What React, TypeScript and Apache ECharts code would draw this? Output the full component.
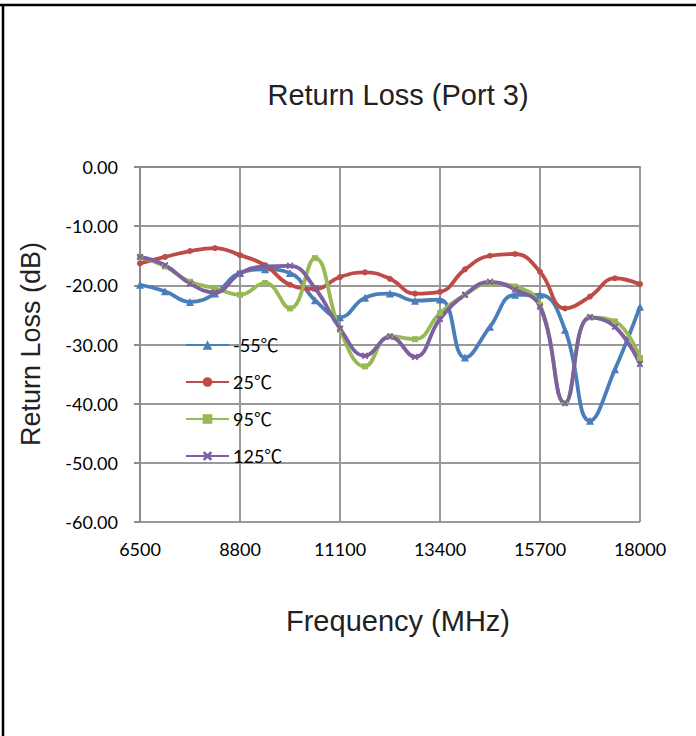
import React, { useEffect, useRef } from "react";
import * as echarts from "echarts";

const frequencies = [
  "6500", "7075", "7650", "8225", "8800", "9375", "9950", "10525", "11100", "11675", "12250",
  "12825", "13400", "13975", "14550", "15125", "15700", "16275", "16850", "17425", "18000",
];

const minus55 = [-19.9, -21.0, -22.8, -21.4, -17.9, -17.3, -17.9, -22.5, -25.4, -22.1, -21.4,
  -22.6, -22.4, -32.2, -27.0, -21.6, -21.6, -27.5, -42.9, -34.2, -23.6];
const plus25 = [-16.3, -15.2, -14.2, -13.7, -14.9, -16.6, -19.9, -20.6, -18.6, -17.8, -18.9,
  -21.4, -21.1, -17.3, -15.0, -14.7, -17.7, -23.9, -21.9, -18.8, -19.8];
const plus95 = [-15.2, -16.8, -19.4, -20.5, -21.6, -19.6, -23.9, -15.4, -27.5, -33.7, -28.6,
  -29.1, -24.7, -21.6, -19.7, -20.2, -23.3, -39.9, -25.4, -26.1, -32.3];
const plus125 = [-15.2, -16.6, -19.7, -21.2, -18.0, -16.8, -16.7, -20.5, -27.3, -31.9, -28.7,
  -32.1, -25.7, -21.6, -19.4, -20.7, -23.6, -39.9, -25.4, -27.0, -33.3];

const seriesNames = ["-55℃", "25℃", "95℃", "125℃"];
const yTicks = [0, -10, -20, -30, -40, -50, -60];

const crossPath =
  "path://M2,0 L5,3 L8,0 L10,2 L7,5 L10,8 L8,10 L5,7 L2,10 L0,8 L3,5 L0,2 Z";

export default function App() {
  const ref = useRef<HTMLDivElement>(null);
  useEffect(() => {
    if (!ref.current) return;
    const chart = echarts.init(ref.current, undefined, { renderer: "svg" });
    const mk = (name: string, data: number[], color: string, symbol: string, size: number) => ({
      name,
      type: "line",
      data,
      smooth: 0.45,
      symbol,
      symbolSize: size,
      showSymbol: true,
      lineStyle: { color, width: 3.8 },
      itemStyle: { color },
      emphasis: { disabled: true },
    });
    chart.setOption({
      animation: false,
      backgroundColor: "#ffffff",
      grid: { left: 140, top: 167, width: 500, height: 355, containLabel: false },
      xAxis: {
        type: "category",
        data: frequencies,
        boundaryGap: false,
        axisLine: { lineStyle: { color: "#8c8c8c", width: 2 } },
        axisTick: { show: false },
        axisLabel: {
          interval: 3,
          margin: 18,
          fontSize: 18,
          color: "#000",
          fontFamily: "Lato",
        },
        splitLine: { show: true, interval: 3, lineStyle: { color: "#999999", width: 2 } },
      },
      yAxis: {
        type: "value",
        min: -60,
        max: 0,
        interval: 10,
        axisLine: { show: true, lineStyle: { color: "#8c8c8c", width: 2 } },
        axisTick: { show: true, length: 6, lineStyle: { color: "#8c8c8c", width: 2 } },
        axisLabel: {
          margin: 22,
          fontSize: 18,
          color: "#000",
          fontFamily: "Lato",
          formatter: (v: number) => (yTicks.includes(v) ? v.toFixed(2) : ""),
        },
        splitLine: { show: true, lineStyle: { color: "#999999", width: 2 } },
      },
      legend: {
        orient: "vertical",
        left: 185,
        top: 336,
        padding: 0,
        itemWidth: 43,
        itemHeight: 12,
        itemGap: 19,
        textStyle: {
          fontSize: 18,
          color: "#000",
          fontFamily: "Lato, 'Noto Sans CJK JP'",
          padding: [8, 0, 0, -1],
        },
        data: seriesNames,
      },
      series: [
        mk(seriesNames[0], minus55, "#4a7ebb", "triangle", 8),
        mk(seriesNames[1], plus25, "#be4b48", "circle", 6),
        mk(seriesNames[2], plus95, "#98b954", "rect", 6),
        mk(seriesNames[3], plus125, "#7d60a0", crossPath, 7),
      ],
      graphic: [
        { type: "line", shape: { x1: 0, y1: 5, x2: 696, y2: 5 }, style: { stroke: "#000", lineWidth: 2.5 } },
        { type: "line", shape: { x1: 3, y1: 4, x2: 3, y2: 736 }, style: { stroke: "#000", lineWidth: 2.5 } },
        {
          type: "text",
          x: 398,
          y: 95,
          style: {
            text: "Return Loss (Port 3)",
            fontSize: 29,
            fontFamily: "Liberation Sans",
            fill: "#222",
            align: "center",
            verticalAlign: "middle",
          },
        },
        {
          type: "text",
          x: 398,
          y: 621,
          style: {
            text: "Frequency (MHz)",
            fontSize: 29,
            fontFamily: "Liberation Sans",
            fill: "#222",
            align: "center",
            verticalAlign: "middle",
          },
        },
        {
          type: "text",
          x: 31,
          y: 344,
          rotation: Math.PI / 2,
          style: {
            text: "Return Loss (dB)",
            fontSize: 27,
            fontFamily: "Liberation Sans",
            fill: "#222",
            align: "center",
            verticalAlign: "middle",
          },
        },
      ],
    });
    return () => chart.dispose();
  }, []);
  return (
    <div
      ref={ref}
      style={{ position: "absolute", left: 0, top: 0, width: 696, height: 736 }}
    />
  );
}
